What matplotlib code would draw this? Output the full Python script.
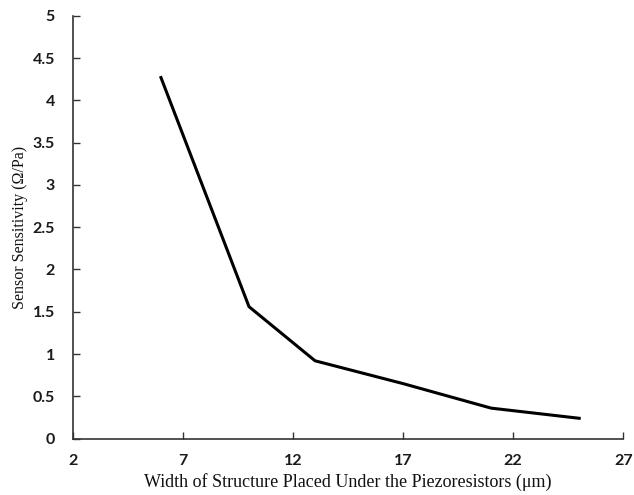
import matplotlib
matplotlib.use("Agg")
import matplotlib.pyplot as plt

width_um = [6, 10, 13, 17, 21, 25]
sensitivity = [4.27, 1.56, 0.92, 0.65, 0.36, 0.24]
x_ticks = [2, 7, 12, 17, 22, 27]
y_ticks = [0, 0.5, 1, 1.5, 2, 2.5, 3, 3.5, 4, 4.5, 5]
y_tick_labels = ["0", "0.5", "1", "1.5", "2", "2.5", "3", "3.5", "4", "4.5", "5"]

fig = plt.figure(figsize=(6.34, 4.95), dpi=100)
ax = fig.add_axes([0.115, 0.114, 0.868, 0.854])
ax.plot(width_um, sensitivity, color="black", linewidth=2.2, solid_joinstyle="miter")
ax.set_xlim(2, 27)
ax.set_ylim(0, 5)
ax.set_xticks(x_ticks)
ax.set_yticks(y_ticks)
ax.set_yticklabels(y_tick_labels)
for s in ["top", "right"]:
    ax.spines[s].set_visible(False)
for s in ["left", "bottom"]:
    ax.spines[s].set_linewidth(1.2)
    ax.spines[s].set_color("#333333")
ax.tick_params(direction="in", length=5, width=1, color="#333333", labelsize=11.5, labelcolor="#1a1a1a")
ax.tick_params(axis="x", pad=11)
ax.tick_params(axis="y", pad=13)
for lab in ax.get_xticklabels() + ax.get_yticklabels():
    lab.set_family("Lato")
    lab.set_fontweight("bold")
ax.set_xlabel("Width of Structure Placed Under the Piezoresistors (μm)", family="Liberation Serif", fontsize=13, labelpad=4, color="#111111")
ax.set_ylabel("Sensor Sensitivity (Ω/Pa)", family="Liberation Serif", fontsize=11.5, labelpad=3, color="#111111")
fig.savefig("out.png", dpi=100)
